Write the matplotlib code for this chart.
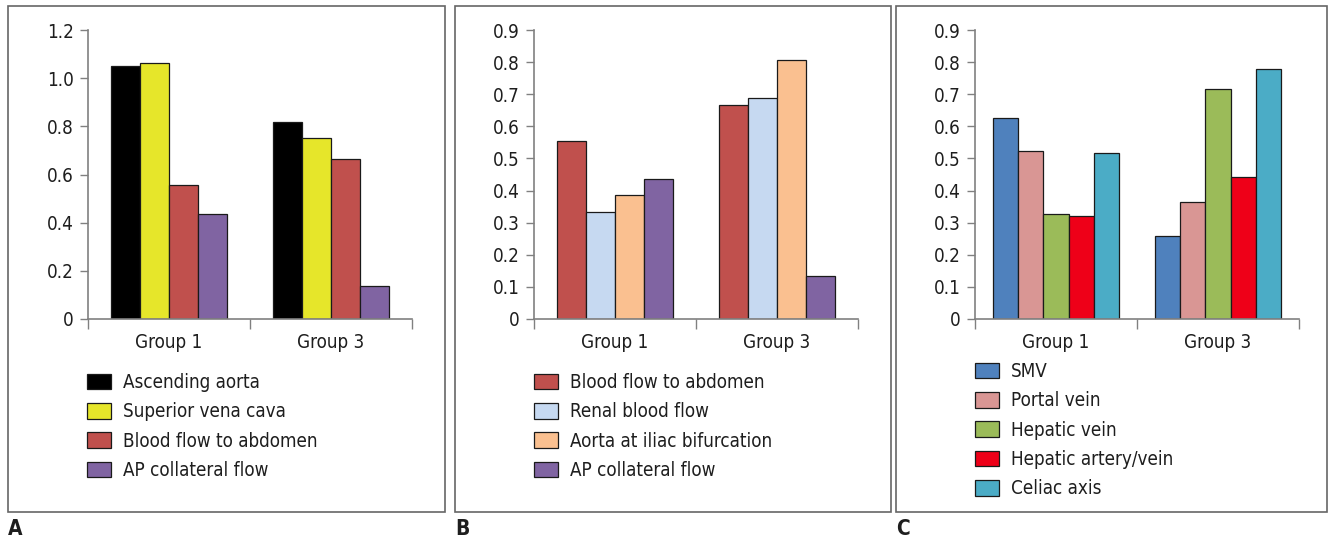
import numpy as np
import matplotlib.pyplot as plt
from matplotlib.patches import Rectangle

plt.rcParams['font.family'] = ['DejaVu Sans']
plt.rcParams['font.stretch'] = 'condensed'

GROUPS = ["Group 1", "Group 3"]

# panel A
LABELS_A = ["Ascending aorta", "Superior vena cava", "Blood flow to abdomen", "AP collateral flow"]
VALUES_A = [[1.05, 0.82], [1.065, 0.75], [0.555, 0.665], [0.435, 0.135]]
COLORS_A = ["#000000", "#e6e62a", "#c0504d", "#8064a2"]
YTICKS_A = [0, 0.2, 0.4, 0.6, 0.8, 1.0, 1.2]
YLABELS_A = ["0", "0.2", "0.4", "0.6", "0.8", "1.0", "1.2"]

# panel B
LABELS_B = ["Blood flow to abdomen", "Renal blood flow", "Aorta at iliac bifurcation", "AP collateral flow"]
VALUES_B = [[0.555, 0.665], [0.333, 0.688], [0.385, 0.808], [0.435, 0.134]]
COLORS_B = ["#c0504d", "#c6d9f1", "#fac090", "#8064a2"]

# panel C
LABELS_C = ["SMV", "Portal vein", "Hepatic vein", "Hepatic artery/vein", "Celiac axis"]
VALUES_C = [[0.625, 0.258], [0.524, 0.364], [0.326, 0.717], [0.321, 0.442], [0.516, 0.778]]
COLORS_C = ["#4f81bd", "#d99694", "#9bbb59", "#ee0018", "#4bacc6"]

YTICKS_BC = [0, 0.1, 0.2, 0.3, 0.4, 0.5, 0.6, 0.7, 0.8, 0.9]
YLABELS_BC = ["0", "0.1", "0.2", "0.3", "0.4", "0.5", "0.6", "0.7", "0.8", "0.9"]

W, H = 1329, 543
TEXT = "#1e1e1e"
AXIS = "#808080"


def px(x, y):
    """pixel position (from top left) to figure fraction"""
    return x / W, 1 - y / H


def draw_panel(fig, left, values, colors, labels, yticks, ylabels, group_width, legend_xy, letter, frame):
    """Draws one grouped bar panel with its legend and frame"""

    x0, y1 = px(left, 30)
    x1, y0 = px(left + 324, 319)
    ax = fig.add_axes([x0, y0, x1 - x0, y1 - y0])

    n = len(values)
    bw = group_width / n
    pos = np.arange(len(GROUPS))
    handles = []
    for i, (vals, col) in enumerate(zip(values, colors)):
        offs = -group_width / 2 + bw * (i + 0.5)
        b = ax.bar(pos + offs, vals, width=bw, color=col, edgecolor="#1a1a1a",
                   linewidth=0.9, zorder=2)
        handles.append(b)

    ax.set_xlim(-0.5, 1.5)
    ax.set_ylim(0, yticks[-1])
    ax.set_yticks(yticks)
    ax.set_yticklabels(ylabels, fontsize=13.5, color=TEXT)

    # x ticks on the category borders, labels in the middle
    ax.set_xticks([-0.5, 0.5, 1.5])
    ax.set_xticklabels(["", "", ""])
    ax.set_xticks(pos, minor=True)
    ax.set_xticklabels(GROUPS, minor=True, fontsize=13.5, color=TEXT)
    ax.tick_params(axis="x", which="major", length=7, width=1, color=AXIS, direction="out")
    ax.tick_params(axis="x", which="minor", length=0, pad=10)
    ax.tick_params(axis="y", length=6, width=1, color=AXIS, pad=4)

    for side in ["top", "right"]:
        ax.spines[side].set_visible(False)
    for side in ["left", "bottom"]:
        ax.spines[side].set_color(AXIS)
        ax.spines[side].set_linewidth(1.2)

    lx, ly = px(*legend_xy)
    fig.legend(handles, labels, loc="upper left", bbox_to_anchor=(lx, ly),
               frameon=False, fontsize=13.5, handlelength=1.28, handleheight=0.9,
               handletextpad=0.62, labelspacing=0.55, borderpad=0, borderaxespad=0,
               labelcolor=TEXT)

    # frame around the panel
    fx0, fy1 = px(frame[0], 6)
    fx1, fy0 = px(frame[1], 512)
    fig.add_artist(Rectangle((fx0, fy0), fx1 - fx0, fy1 - fy0, transform=fig.transFigure,
                             fill=False, edgecolor="#666666", linewidth=1.2))

    tx, ty = px(frame[0], 529)
    fig.text(tx, ty, letter, fontsize=15, fontweight="bold", color=TEXT, va="center", ha="left")


fig = plt.figure(figsize=(W / 100, H / 100), dpi=100)

draw_panel(fig, 88, VALUES_A, COLORS_A, LABELS_A, YTICKS_A, YLABELS_A, 0.72,
           (87, 373), "A", (8, 445))
draw_panel(fig, 534, VALUES_B, COLORS_B, LABELS_B, YTICKS_BC, YLABELS_BC, 0.72,
           (534, 373), "B", (455, 891))
draw_panel(fig, 975, VALUES_C, COLORS_C, LABELS_C, YTICKS_BC, YLABELS_BC, 0.78,
           (975, 362), "C", (896, 1327))

plt.savefig("out.png", dpi=100)
